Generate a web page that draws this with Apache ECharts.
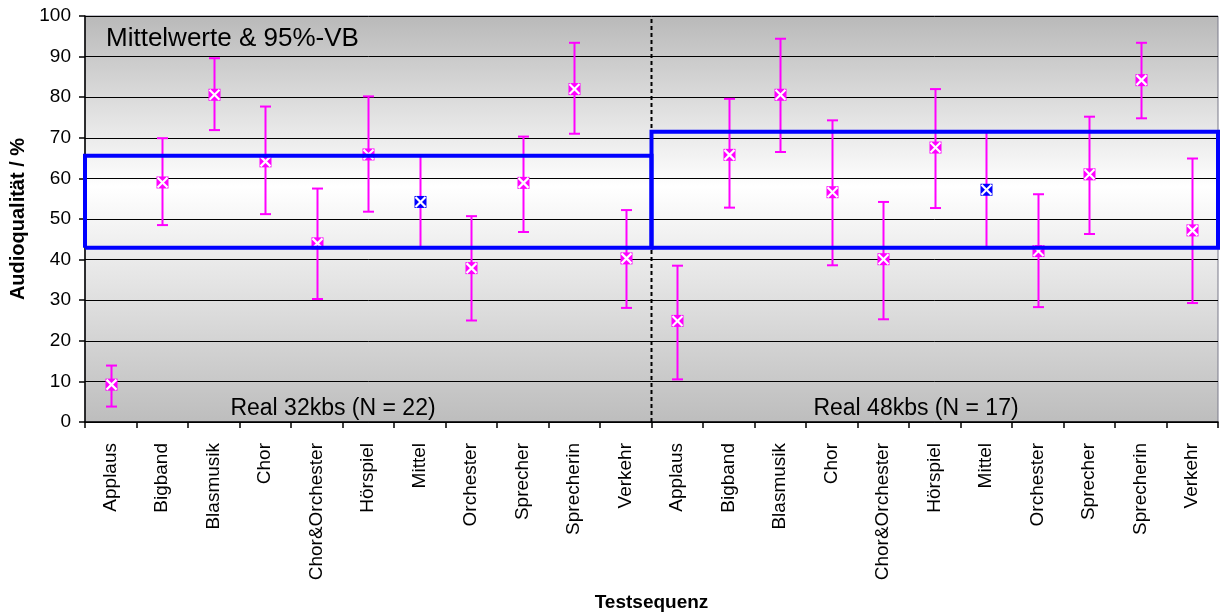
<!DOCTYPE html>
<html>
<head>
<meta charset="utf-8">
<script src="https://cdn.jsdelivr.net/npm/echarts@6/dist/echarts.min.js"></script>
<style>html,body{margin:0;padding:0;background:#fff}#c{width:1220px;height:615px}</style>
</head>
<body>
<div id="c"></div>
<script>
var groupNames = ['Applaus','Bigband','Blasmusik','Chor','Chor&Orchester','Hörspiel','Mittel','Orchester','Sprecher','Sprecherin','Verkehr'];
var categories = groupNames.concat(groupNames);

var mean32 = [9.2, 59.0, 80.6, 64.2, 44.0, 65.9, 54.2, 37.9, 58.9, 82.0, 40.3];
var low32  = [3.8, 48.5, 71.9, 51.2, 30.3, 51.8, 42.9, 25.0, 46.8, 71.0, 28.1];
var high32 = [13.9, 69.9, 89.6, 77.7, 57.5, 80.2, 65.6, 50.7, 70.3, 93.4, 52.2];

var mean48 = [24.9, 65.8, 80.6, 56.6, 40.1, 67.6, 57.2, 42.1, 61.0, 84.2, 47.2];
var low48  = [10.5, 52.8, 66.5, 38.6, 25.3, 52.7, 42.9, 28.3, 46.3, 74.8, 29.3];
var high48 = [38.5, 79.6, 94.4, 74.3, 54.2, 82.0, 71.5, 56.1, 75.2, 93.4, 64.9];

var yTicks = [0,10,20,30,40,50,60,70,80,90,100];
var groupLabels = ['Real 32kbs (N = 22)', 'Real 48kbs (N = 17)'];
var titleText = 'Mittelwerte & 95%-VB';

var MAG = '#FF00FF', BLUE = '#0000FF';
var FONT = '"Liberation Sans", Arial, sans-serif';

var n = groupNames.length;
var mittelIdx = groupNames.indexOf('Mittel');

// error-bar data: [categoryIndex, mean, low, high, isMittel]
var ebData = [];
for (var i = 0; i < n; i++) ebData.push([i, mean32[i], low32[i], high32[i], i === mittelIdx ? 1 : 0]);
for (var j = 0; j < n; j++) ebData.push([n + j, mean48[j], low48[j], high48[j], j === mittelIdx ? 1 : 0]);

// Boxes from Mittel confidence interval
var l32 = low32[mittelIdx], h32 = high32[mittelIdx];
var l48 = low48[mittelIdx], h48 = high48[mittelIdx];
var box32 = [[0, l32], [0, h32], [n, h32], [n, l32], [0, l32]];
var box48 = [[n, l48], [n, h48], [2 * n, h48], [2 * n, l48], [n, l48]];
var divider = [[n, yTicks[0]], [n, yTicks[yTicks.length - 1]]];

function renderEB(params, api) {
  var x = api.value(0);
  var pm = api.coord([x, api.value(1)]);
  var pl = api.coord([x, api.value(2)]);
  var ph = api.coord([x, api.value(3)]);
  var isM = api.value(4) === 1;
  var cx = Math.round(pm[0]) + 0.5;
  var cap = 5.5, s = 6;
  var lineStyle = { stroke: MAG, lineWidth: 2 };
  var children = [
    { type: 'line', shape: { x1: cx, y1: pl[1], x2: cx, y2: ph[1] }, style: lineStyle },
    { type: 'line', shape: { x1: cx - cap, y1: pl[1], x2: cx + cap, y2: pl[1] }, style: lineStyle },
    { type: 'line', shape: { x1: cx - cap, y1: ph[1], x2: cx + cap, y2: ph[1] }, style: lineStyle },
    { type: 'rect', shape: { x: cx - s, y: pm[1] - s, width: 2 * s, height: 2 * s }, style: { fill: isM ? BLUE : MAG } },
    { type: 'line', shape: { x1: cx - s + 1, y1: pm[1] - s + 1, x2: cx + s - 1, y2: pm[1] + s - 1 }, style: { stroke: '#fff', lineWidth: 2.2 } },
    { type: 'line', shape: { x1: cx - s + 1, y1: pm[1] + s - 1, x2: cx + s - 1, y2: pm[1] - s + 1 }, style: { stroke: '#fff', lineWidth: 2.2 } }
  ];
  return { type: 'group', children: children };
}

var chart = echarts.init(document.getElementById('c'), null, { renderer: 'canvas' });
chart.setOption({
  animation: false,
  textStyle: { fontFamily: FONT },
  grid: {
    left: 85, right: 2, top: 16, bottom: 193,
    containLabel: false,
    outerBoundsMode: 'none',
    show: true,
    borderColor: '#7a7a8a', borderWidth: 1,
    backgroundColor: new echarts.graphic.LinearGradient(0, 0, 0, 1, [
      { offset: 0, color: '#b9b9b9' },
      { offset: 0.42, color: '#ffffff' },
      { offset: 1, color: '#bdbdbd' }
    ])
  },
  xAxis: [{
    type: 'category',
    data: categories,
    boundaryGap: true,
    name: 'Testsequenz',
    nameLocation: 'middle',
    nameGap: 171,
    nameTextStyle: { fontFamily: FONT, fontWeight: 'bold', fontSize: 19, color: '#000' },
    axisLine: { lineStyle: { color: '#000', width: 1.5 } },
    axisTick: { show: true, length: 6, lineStyle: { color: '#000', width: 1.5 } },
    axisLabel: { rotate: 90, interval: 0, fontSize: 19, color: '#000', fontFamily: FONT, margin: 21 },
    splitLine: { show: false }
  }, {
    type: 'value', show: false, min: 0, max: 2 * n
  }],
  yAxis: {
    type: 'value', min: 0, max: 100, interval: 10,
    name: 'Audioqualität / %',
    nameLocation: 'middle',
    nameRotate: 90,
    nameGap: 57,
    nameTextStyle: { fontFamily: FONT, fontWeight: 'bold', fontSize: 20, color: '#000' },
    axisLine: { show: true, lineStyle: { color: '#000', width: 1.5 } },
    axisTick: { show: true, length: 6, lineStyle: { color: '#000', width: 1.5 } },
    axisLabel: { fontSize: 19, color: '#000', fontFamily: FONT, margin: 14 },
    splitLine: { show: true, lineStyle: { color: '#000', width: 1 } }
  },
  series: [
    {
      type: 'line', xAxisIndex: 1, data: divider, symbol: 'none', z: 2,
      lineStyle: { color: '#000', width: 2, type: [4, 3] }, silent: true
    },
    {
      type: 'custom', xAxisIndex: 0, renderItem: renderEB, data: ebData, z: 3,
      encode: { x: 0, y: [1, 2, 3] }
    },
    {
      type: 'line', xAxisIndex: 1, data: box32, symbol: 'none', z: 4,
      lineStyle: { color: BLUE, width: 4, join: 'miter' }, silent: true
    },
    {
      type: 'line', xAxisIndex: 1, data: box48, symbol: 'none', z: 4,
      lineStyle: { color: BLUE, width: 4, join: 'miter' }, silent: true
    }
  ],
  graphic: [
    { type: 'text', z: 10, style: { x: 106, y: 39, text: titleText, font: '26px ' + FONT, fill: '#000', textAlign: 'left', textVerticalAlign: 'middle' } },
    { type: 'text', z: 10, style: { x: 333, y: 409, text: groupLabels[0], font: '23px ' + FONT, fill: '#000', textAlign: 'center', textVerticalAlign: 'middle' } },
    { type: 'text', z: 10, style: { x: 916, y: 409, text: groupLabels[1], font: '23px ' + FONT, fill: '#000', textAlign: 'center', textVerticalAlign: 'middle' } }
  ]
});
</script>
</body>
</html>
